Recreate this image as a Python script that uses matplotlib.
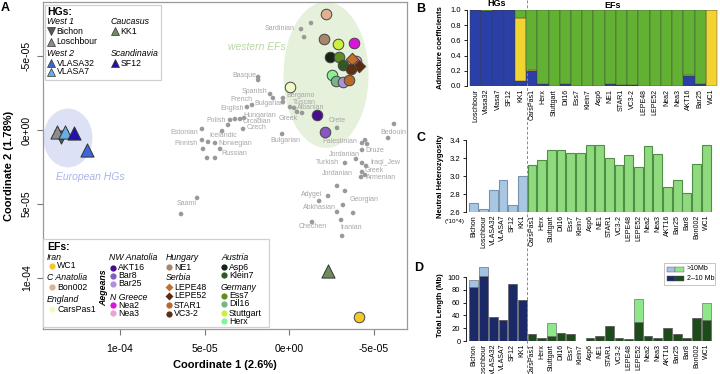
import matplotlib
matplotlib.use('Agg')
import matplotlib.pyplot as plt
from matplotlib.patches import Ellipse, Rectangle
from matplotlib.lines import Line2D

plt.rcParams['font.family'] = ['Liberation Sans', 'DejaVu Sans']

# ---------------- Panel A data (coordinates in units of 1e-5) ----------------
SC = 1e-5
ref_x = [-0.71, -1.30, -0.89, 1.83, 1.83, 1.12, 0.95, 2.49, 2.19, 0.36, 0.36,
         -0.06, -0.30, -0.47, -0.77, 3.61, 3.49, 3.20, 2.90, 2.66, 2.72, 5.15,
         3.96, 5.15, 5.09, 4.79, 4.38, 4.85, 4.38, 4.08, 0.41, -2.84, -4.32,
         -4.50, -4.62, -6.21, -5.86, -4.32, -3.96, -4.32, -4.56, -3.31, -4.32,
         -4.26, -4.50, -2.84, -3.31, -2.31, -1.78, -2.84, -3.79, -3.19, -1.36,
         -3.08, -3.14, 5.44, 6.39, -2.13]
ref_y = [-6.82, -7.23, -6.28, -3.58, -3.38, -2.43, -2.16, -1.55, -1.69, -2.16, -1.89,
         -1.55, -1.49, -1.22, -1.15, -0.34, -0.68, -0.74, -0.74, -0.81, -0.07, -0.07,
         0.07, 0.68, 1.28, 0.81, 0.88, 1.89, 1.89, 1.28, 0.27, -0.14, 0.88,
         0.68, 0.95, -0.41, 0.54, 1.35, 1.96, 2.23, 2.43, 2.23, 2.84,
         3.18, 3.04, 3.78, 4.12, 4.46, 4.80, 5.54, 5.61, 5.07, 6.22,
         6.08, 7.16, 4.59, 5.68, 0.14]

pop_names = ['Sardinian', 'Basque', 'Spanish', 'French', 'English', 'Bulgarian', 'Bergamo',
             'Tuscan', 'Albanian', 'Hungarian', 'Greek', 'Orcadian', 'Czech', 'Polish',
             'Estonian', 'Icelandic', 'Finnish', 'Norwegian', 'Russian', 'Bulgarian', 'Crete',
             'Palestinian', 'Bedouin', 'Jordanian', 'Druze', 'Turkish', 'Iraqi_Jew',
             'Jordanian', 'Greek', 'Armenian', 'Adygei', 'Georgian', 'Abkhasian', 'Chechen',
             'Iranian', 'Saami']
pop_x = [0.53, 2.66, 2.07, 2.84, 3.37, 1.18, -0.71, -0.89, -1.30, 1.72, 0.06, 1.89, 1.95,
         4.32, 6.21, 3.91, 6.09, 3.20, 3.25, 0.24, -2.84, -3.02, -6.15, -3.25, -5.09, -2.25,
         -5.68, -2.84, -5.03, -5.44, -1.36, -4.44, -1.78, -1.42, -3.67, 6.04]
pop_y = [-6.89, -3.65, -2.57, -2.09, -1.42, -1.76, -2.30, -1.89, -1.49, -0.95, -0.81, -0.54,
         -0.14, -0.61, 0.14, 0.34, 0.88, 0.88, 1.62, 0.74, -0.61, 0.81, 0.14, 1.69, 1.42, 2.23,
         2.23, 2.97, 2.77, 3.24, 4.39, 4.73, 5.27, 6.49, 6.62, 5.00]

hg_names = ['Bichon', 'Loschbour', 'VLASA7', 'SF12', 'VLASA32', 'KK1']
hg_x = [13.49, 13.73, 13.25, 12.72, 11.95, -2.31]
hg_y = [0.47, 0.14, 0.14, 0.20, 1.35, 9.53]
hg_colors = {'Bichon': '#5a5a5a', 'Loschbour': '#8c8c8c', 'VLASA32': '#3f66d6',
             'VLASA7': '#66b0e6', 'SF12': '#2412a8', 'KK1': '#6f8c5c'}
hg_markers = {'Bichon': 'v', 'Loschbour': '^', 'VLASA32': '^', 'VLASA7': '^',
              'SF12': '^', 'KK1': '^'}

ef_names = ['Bon002', 'NE1', 'Stuttgart', 'Nea2', 'Asp6', 'Ess7', 'Klein7', 'Nea3',
            'LEPE48', 'LEPE52', 'VC3-2', 'Herx', 'Dil16', 'Bar25', 'STAR1', 'CarsPas1',
            'AKT16', 'Bar8', 'WC1']
ef_x = [-2.19, -2.07, -2.90, -3.85, -2.43, -2.96, -3.19, -3.96, -3.73, -4.14, -3.67,
        -2.54, -2.78, -3.19, -3.55, -0.06, -1.66, -2.13, -4.14]
ef_y = [-7.84, -6.15, -5.81, -5.88, -4.93, -4.93, -4.39, -4.66, -4.80, -4.32, -4.12,
        -3.72, -3.31, -3.24, -3.38, -2.91, -1.01, 0.14, 12.64]
ef_colors = {'WC1': '#f2c92c', 'Bon002': '#e2b08e', 'CarsPas1': '#f1fac4',
             'AKT16': '#4a0c8c', 'Bar8': '#8a55c4', 'Bar25': '#ad92d6',
             'Nea2': '#e011d8', 'Nea3': '#f09fd4', 'NE1': '#a8866a',
             'LEPE48': '#c0702f', 'LEPE52': '#5a2a10', 'STAR1': '#b8692a',
             'VC3-2': '#5e3012', 'Asp6': '#142514', 'Klein7': '#2f5a24',
             'Ess7': '#5f8f22', 'Dil16': '#78b488', 'Stuttgart': '#cbf040',
             'Herx': '#86f294'}
ef_markers = {n: 'o' for n in ef_colors}
ef_markers['LEPE48'] = 'D'
ef_markers['LEPE52'] = 'D'

# ---------------- Panel B data ----------------
b_labels = ['Loschbour', 'Vlasa32', 'Vlasa7', 'SF12', 'KK1', 'CarsPas1', 'Herx', 'Stuttgart',
            'Dil16', 'Ess7', 'Klein7', 'Asp6', 'NE1', 'STAR1', 'VC3-2', 'LEPE48', 'LEPE52',
            'Nea2', 'Nea3', 'AKT16', 'Bar25', 'WC1']
b_blue = [1.00, 0.99, 1.00, 1.00, 0.06, 0.20, 0.02, 0.00, 0.02, 0.00, 0.00, 0.00, 0.02,
          0.015, 0.015, 0.00, 0.00, 0.00, 0.00, 0.13, 0.02, 0.00]
b_yellow = [0.00, 0.00, 0.00, 0.00, 0.84, 0.01, 0.00, 0.00, 0.00, 0.00, 0.00, 0.00, 0.00,
            0.00, 0.00, 0.00, 0.00, 0.00, 0.00, 0.015, 0.01, 1.00]
b_green = [0.00, 0.01, 0.00, 0.00, 0.10, 0.79, 0.98, 1.00, 0.98, 1.00, 1.00, 1.00, 0.98,
           0.985, 0.985, 1.00, 1.00, 1.00, 1.00, 0.855, 0.97, 0.00]
n_hg_b = 5

# ---------------- Panel C / D data ----------------
cd_labels = ['Bichon', 'Loschbour', 'VLASA32', 'VLASA7', 'SF12', 'KK1', 'CarsPas1', 'Herx',
             'Stuttgart', 'Dil16', 'Ess7', 'Klein7', 'Asp6', 'NE1', 'STAR1', 'VC3-2',
             'LEPE48', 'LEPE52', 'Nea2', 'Nea3', 'AKT16', 'Bar25', 'Bar8', 'Bon002', 'WC1']
heterozygosity = [2.70, 2.63, 2.84, 2.96, 2.68, 3.00, 3.12, 3.18, 3.29, 3.29, 3.26, 3.26,
                  3.34, 3.34, 3.20, 3.12, 3.23, 3.10, 3.33, 3.24, 2.88, 2.96, 2.81, 3.13, 3.35]
roh_2_10 = [85, 102, 38, 33, 89, 64, 10.5, 5, 8, 12, 11, 0.5, 5, 7.8, 23.4, 5, 2.6, 29,
            8, 5, 19.8, 10.5, 4, 36, 33]
roh_gt10 = [11, 13, 0, 0, 0, 0, 0, 0, 19.6, 0, 0, 0, 0, 0, 0, 0, 0, 36, 0, 0, 0, 0, 0, 0, 27]
n_hg_cd = 6

# ---------------- layout helpers ----------------
W, H = 720, 374
fig = plt.figure(figsize=(7.2, 3.74), dpi=100)


def rect(l, t, r, b):
    return [l / W, 1 - b / H, (r - l) / W, (b - t) / H]


def fx(px):
    return px / W


def fy(py):
    return 1 - py / H


# ================= Panel A =================
axA = fig.add_axes(rect(43, 2, 407, 329))
axA.set_xlim(14.556 * SC, -6.98 * SC)
axA.set_ylim(13.45 * SC, -8.65 * SC)

axA.add_patch(Ellipse((13.08 * SC, 0.54 * SC), 2.9 * SC, 3.98 * SC,
                      facecolor='#dde1f5', edgecolor='none', zorder=0))
axA.add_patch(Ellipse((-2.19 * SC, -3.72 * SC), 5.03 * SC, 9.87 * SC,
                      facecolor='#e6f1dc', edgecolor='none', zorder=0))
axA.text(11.78 * SC, 3.18 * SC, 'European HGs', color='#a9b5ea', fontsize=7.5,
         style='italic', ha='center', va='center')
axA.text(1.89 * SC, -5.61 * SC, 'western EFs', color='#b6d7a2', fontsize=7.5,
         style='italic', ha='center', va='center')

axA.scatter([v * SC for v in ref_x], [v * SC for v in ref_y], s=11, color='#999999',
            edgecolors='none', zorder=2)
for n, x, y in zip(pop_names, pop_x, pop_y):
    axA.text(x * SC, y * SC, n, fontsize=5, color='#a6a6a6', ha='center', va='center',
             zorder=2)

for n, x, y in zip(hg_names, hg_x, hg_y):
    axA.scatter([x * SC], [y * SC], s=90, marker=hg_markers[n], color=hg_colors[n],
                edgecolors='#333333', linewidths=0.7, zorder=4)
for n, x, y in zip(ef_names, ef_x, ef_y):
    axA.scatter([x * SC], [y * SC], s=58 if ef_markers[n] == 'o' else 40,
                marker=ef_markers[n], color=ef_colors[n],
                edgecolors='#444444', linewidths=0.7, zorder=4)

axA.set_xticks([10 * SC, 5 * SC, 0, -5 * SC], ['1e-04', '5e-05', '0e+00', '-5e-05'])
axA.set_yticks([-5 * SC, 0, 5 * SC, 10 * SC], ['-5e-05', '0e+00', '5e-05', '1e-04'])
for lab in axA.get_yticklabels():
    lab.set_rotation(90)
    lab.set_va('center')
axA.tick_params(labelsize=7.5, length=4, color='#777777')
axA.tick_params(axis='x', pad=7)
axA.tick_params(axis='y', pad=4)
for s in axA.spines.values():
    s.set_color('#999999')
    s.set_linewidth(0.9)
axA.set_xlabel('Coordinate 1 (2.6%)', fontsize=8, fontweight='bold', labelpad=4)
axA.set_ylabel('Coordinate 2 (1.78%)', fontsize=8, fontweight='bold', labelpad=6)

# ----- HG legend -----
fig.add_artist(Rectangle((fx(45), fy(80)), fx(161) - fx(45), fy(5) - fy(80),
                         transform=fig.transFigure, facecolor='white',
                         edgecolor='#d0d0d0', lw=0.9, zorder=5))


def fig_marker(px, py, m, c, ms, z=6):
    fig.add_artist(Line2D([fx(px)], [fy(py)], marker=m, markersize=ms,
                          markerfacecolor=c, markeredgecolor='#333333',
                          markeredgewidth=0.5, linestyle='none',
                          transform=fig.transFigure, zorder=z))


def fig_text(px, py, s, size=6.5, **kw):
    fig.text(fx(px), fy(py), s, fontsize=size, va='center', zorder=7, **kw)


fig_text(47, 12, 'HGs:', 7.5, fontweight='bold')
fig_text(47, 22, 'West 1', 6.3, style='italic')
fig_text(47, 54, 'West 2', 6.3, style='italic')
fig_text(111, 22, 'Caucasus', 6.3, style='italic')
fig_text(111, 54, 'Scandinavia', 6.3, style='italic')
hg_leg = [('Bichon', 51, 31), ('Loschbour', 51, 42), ('VLASA32', 51, 63),
          ('VLASA7', 51, 72), ('KK1', 115, 31), ('SF12', 115, 63)]
for n, px, py in hg_leg:
    fig_marker(px, py, hg_markers[n], hg_colors[n], 5.5)
    fig_text(px + 5.5, py, n, 6.3)

# ----- EF legend -----
fig.add_artist(Rectangle((fx(43), fy(327)), fx(269) - fx(43), fy(239) - fy(327),
                         transform=fig.transFigure, facecolor='white',
                         edgecolor='#d0d0d0', lw=0.9, zorder=5))
fig_text(47, 247, 'EFs:', 7.5, fontweight='bold')
ef_groups = [('Iran', 47, 257), ('C Anatolia', 47, 278), ('England', 47, 299),
             ('NW Anatolia', 109, 258), ('N Greece', 110, 297), ('Hungary', 166, 258),
             ('Serbia', 166, 278), ('Austria', 221, 258), ('Germany', 221, 287)]
for g, px, py in ef_groups:
    fig_text(px, py, g, 6.3, style='italic')
fig.text(fx(104), fy(288), 'Aegeans', fontsize=6.3, style='italic', fontweight='bold',
         rotation=90, ha='center', va='center', zorder=7)
ef_leg = [('WC1', 52, 266), ('Bon002', 52, 287), ('CarsPas1', 52, 309),
          ('AKT16', 113, 268), ('Bar8', 113, 276), ('Bar25', 113, 284),
          ('Nea2', 113, 305), ('Nea3', 113, 313), ('NE1', 169, 267),
          ('LEPE48', 169, 287), ('LEPE52', 169, 296), ('STAR1', 169, 305),
          ('VC3-2', 169, 314), ('Asp6', 224, 267), ('Klein7', 224, 275),
          ('Ess7', 224, 296), ('Dil16', 224, 304), ('Stuttgart', 224, 313),
          ('Herx', 224, 321)]
for n, px, py in ef_leg:
    m = ef_markers[n]
    fig.add_artist(Line2D([fx(px)], [fy(py)], marker=m, markersize=4.5 if m == 'o' else 3.8,
                          markerfacecolor=ef_colors[n], markeredgecolor='none',
                          linestyle='none', transform=fig.transFigure, zorder=6))
    fig_text(px + 5, py, n, 6.3)

# ================= Panel B =================
axB = fig.add_axes(rect(467, 10, 718, 86))
xb = list(range(len(b_labels)))
c_blue, c_yel, c_grn = '#2b3fa8', '#f1d431', '#62b133'
bot2 = [a + b for a, b in zip(b_blue, b_yellow)]
axB.bar(xb, b_blue, width=1.0, color=c_blue, edgecolor='#3b3b3b', linewidth=0.3)
axB.bar(xb, b_yellow, bottom=b_blue, width=1.0, color=c_yel, edgecolor='#3b3b3b',
        linewidth=0.3)
axB.bar(xb, b_green, bottom=bot2, width=1.0, color=c_grn, edgecolor='#3b3b3b',
        linewidth=0.3)
axB.set_xlim(-0.767, 21.589)
axB.set_ylim(0, 1)
axB.set_yticks([0, 0.2, 0.4, 0.6, 0.8, 1.0], ['0.0', '0.2', '0.4', '0.6', '0.8', '1.0'])
axB.set_xticks(xb, b_labels, rotation=90)
axB.tick_params(axis='x', length=0, pad=2, labelsize=5)
axB.tick_params(axis='y', length=2.5, pad=1.5, labelsize=5.5, width=0.6)
for s in ['top', 'right', 'bottom']:
    axB.spines[s].set_visible(False)
axB.spines['left'].set_linewidth(0.6)
fig.text(fx(497), fy(4), 'HGs', fontsize=6.5, fontweight='bold', ha='center', va='center')
fig.text(fx(613), fy(5), 'EFs', fontsize=6.5, fontweight='bold', ha='center', va='center')
fig.text(fx(440), fy(48), 'Admixture coefficients', fontsize=5.5, fontweight='bold',
         rotation=90, ha='center', va='center')

# ================= Panel C =================
axC = fig.add_axes(rect(466, 140, 718, 212))
xc = list(range(len(cd_labels)))
c_fill = ['#a9c6e3' if i < n_hg_cd else '#8fda7f' for i in xc]
c_edge = ['#7a93ad' if i < n_hg_cd else '#4f8f45' for i in xc]
hbottom = [2.6] * len(xc)
axC.bar(xc, [h - 2.6 for h in heterozygosity], bottom=hbottom, width=0.9, color=c_fill,
        edgecolor=c_edge, linewidth=0.8)
axC.set_xlim(-0.81, 25.22)
axC.set_ylim(2.6, 3.4)
axC.set_yticks([2.6, 2.8, 3.0, 3.2, 3.4], ['2.6', '2.8', '3.0', '3.2', '3.4'])
axC.set_xticks(xc, cd_labels, rotation=90)
axC.tick_params(axis='x', length=0, pad=2, labelsize=5)
axC.tick_params(axis='y', length=2.5, pad=1.5, labelsize=5.5, width=0.6)
for s in ['top', 'right', 'bottom']:
    axC.spines[s].set_visible(False)
axC.spines['left'].set_linewidth(0.6)
fig.text(fx(440), fy(176), 'Neutral Heterozygosity', fontsize=5.5, fontweight='bold',
         rotation=90, ha='center', va='center')
fig.text(fx(455), fy(221), '(*10^4)', fontsize=4.5, ha='center', va='center')

# ================= Panel D =================
axD = fig.add_axes(rect(466, 266.8, 718, 341))
d_dark = ['#1b2a66' if i < n_hg_cd else '#1f4a1c' for i in xc]
d_light = ['#a3c3e6' if i < n_hg_cd else '#8ee88a' for i in xc]
axD.bar(xc, roh_2_10, width=0.9, color=d_dark, edgecolor='#555555', linewidth=0.4)
axD.bar(xc, roh_gt10, bottom=roh_2_10, width=0.9, color=d_light, edgecolor='#555555',
        linewidth=0.4)
axD.set_xlim(-0.81, 25.22)
axD.set_ylim(0, 116)
axD.set_yticks([0, 20, 40, 60, 80, 100])
axD.spines['left'].set_bounds(0, 100)
axD.set_xticks(xc, cd_labels, rotation=90)
axD.tick_params(axis='x', length=0, pad=2, labelsize=5)
axD.tick_params(axis='y', length=2.5, pad=1.5, labelsize=5.5, width=0.6)
for s in ['top', 'right', 'bottom']:
    axD.spines[s].set_visible(False)
axD.spines['left'].set_linewidth(0.6)
fig.text(fx(440), fy(305), 'Total Length (Mb)', fontsize=5.5, fontweight='bold',
         rotation=90, ha='center', va='center')

# D legend
fig.add_artist(Rectangle((fx(664), fy(285)), fx(715) - fx(664), fy(263) - fy(285),
                         transform=fig.transFigure, facecolor='white',
                         edgecolor='#bbbbbb', lw=0.6, zorder=5))
for row, (lab, ca, cb) in enumerate([('>10Mb', '#a3c3e6', '#8ee88a'),
                                     ('2\u201310 Mb', '#1b2a66', '#1f4a1c')]):
    py = 269 + row * 9
    fig.add_artist(Rectangle((fx(667), fy(py + 2.5)), fx(675) - fx(667), 5 / H,
                             transform=fig.transFigure, facecolor=ca, edgecolor='#555555',
                             lw=0.3, zorder=6))
    fig.add_artist(Rectangle((fx(675), fy(py + 2.5)), fx(684) - fx(675), 5 / H,
                             transform=fig.transFigure, facecolor=cb, edgecolor='#555555',
                             lw=0.3, zorder=6))
    fig.text(fx(687), fy(py), lab, fontsize=5, va='center', zorder=7)

# dashed separator across B, C, D
fig.add_artist(Line2D([fx(527), fx(527)], [fy(0), fy(372)], transform=fig.transFigure,
                      color='#8a8a8a', lw=0.7, linestyle=(0, (3, 2)), zorder=8))

# panel letters
for L, px, py in [('A', 5, 8), ('B', 421, 9), ('C', 421, 138), ('D', 419, 268)]:
    fig.text(fx(px), fy(py), L, fontsize=9, fontweight='bold', ha='center', va='center')

fig.savefig('out.png', dpi=100)
